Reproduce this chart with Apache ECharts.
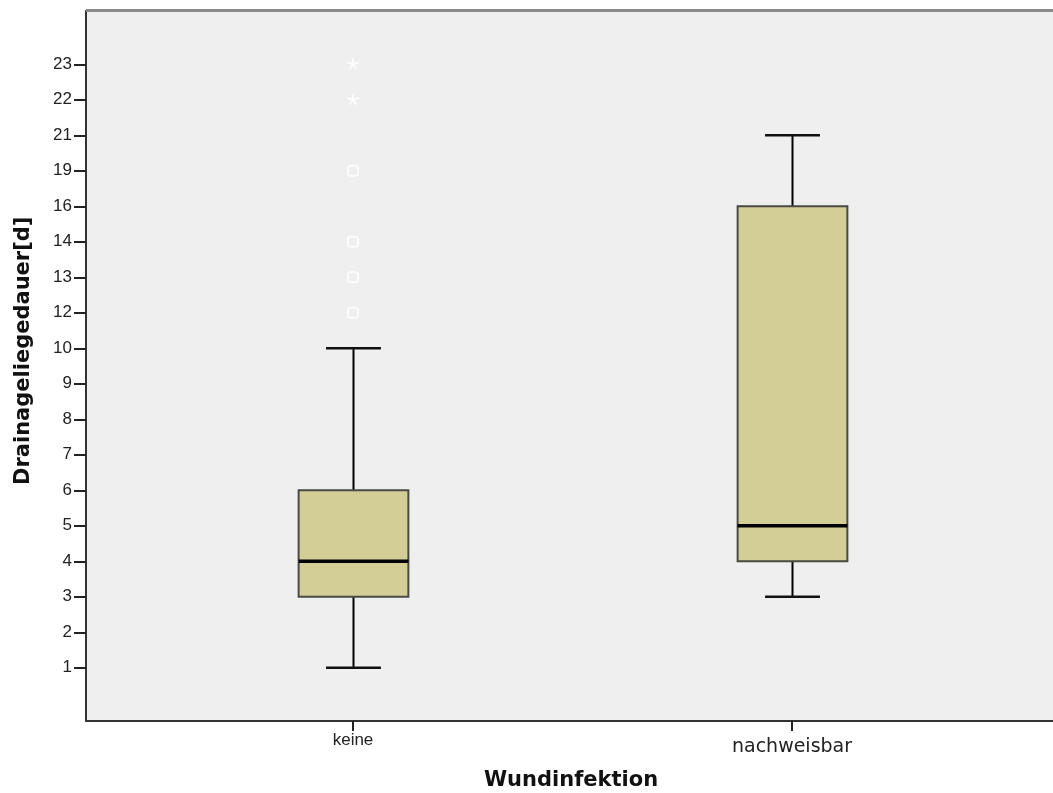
<!DOCTYPE html>
<html>
<head>
<meta charset="utf-8">
<script src="https://cdn.jsdelivr.net/npm/echarts@6/dist/echarts.min.js"></script>
<style>
html,body{margin:0;padding:0;background:#fff;}
#c{width:1053px;height:793px;}
</style>
</head>
<body>
<div id="c"></div>
<script>
// ---- data ----
const categories = ['keine', 'nachweisbar'];
const yTickLabels = ['1','2','3','4','5','6','7','8','9','10','12','13','14','16','19','21','22','23'];
const whiskerLow = [1, 3];
const quartile1 = [3, 4];
const medians = [4, 5];
const quartile3 = [6, 16];
const whiskerHigh = [10, 21];
const outlierCircles = [[0, 12], [0, 13], [0, 14], [0, 19]];
const outlierStars = [[0, 22], [0, 23]];

// y axis is ordinal: padding categories at both ends
const yCats = [''].concat(yTickLabels, [' ']);
const yIdx = v => yCats.indexOf(String(v));

const BOX_W = 0.25;   // box width in x-units
const CAP_W = 0.125;  // cap width in x-units

const boxData = categories.map((c, i) => [i, yIdx(whiskerLow[i]), yIdx(quartile1[i]), yIdx(medians[i]), yIdx(quartile3[i]), yIdx(whiskerHigh[i])]);
const circleData = outlierCircles.map(p => [p[0], yIdx(p[1])]);
const starData = outlierStars.map(p => [p[0], yIdx(p[1])]);

const chart = echarts.init(document.getElementById('c'), null, {renderer: 'canvas'});

function renderBox(params, api) {
  const x = api.value(0);
  const lo = api.coord([x, api.value(1)]);
  const q1 = api.coord([x, api.value(2)]);
  const md = api.coord([x, api.value(3)]);
  const q3 = api.coord([x, api.value(4)]);
  const hi = api.coord([x, api.value(5)]);
  const bw = api.size([BOX_W, 0])[0];
  const cw = api.size([CAP_W, 0])[0];
  const cx = Math.round(lo[0]) + 0.5;
  const line = (x1, y1, x2, y2, w, col) => ({type: 'line', shape: {x1, y1, x2, y2}, style: {stroke: col, lineWidth: w}});
  return {
    type: 'group',
    children: [
      line(cx, q1[1], cx, lo[1], 2, '#000'),
      line(cx, q3[1], cx, hi[1], 2, '#000'),
      line(cx - cw / 2, lo[1], cx + cw / 2, lo[1], 2.5, '#111'),
      line(cx - cw / 2, hi[1], cx + cw / 2, hi[1], 2.5, '#111'),
      {type: 'rect', shape: {x: cx - bw / 2, y: q3[1], width: bw, height: q1[1] - q3[1]},
        style: {fill: '#d3ce96', stroke: '#4a4a44', lineWidth: 2}},
      line(cx - bw / 2, md[1], cx + bw / 2, md[1], 3.5, '#000')
    ]
  };
}

function renderStar(params, api) {
  const p = api.coord([api.value(0), api.value(1)]);
  const r = 6;
  const children = [];
  for (let k = 0; k < 5; k++) {
    const a = -Math.PI / 2 + k * 2 * Math.PI / 5;
    children.push({type: 'line', shape: {x1: p[0], y1: p[1], x2: p[0] + r * Math.cos(a), y2: p[1] + r * Math.sin(a)},
      style: {stroke: '#ffffff', lineWidth: 1.6}});
  }
  return {type: 'group', children};
}

const option = {
  animation: false,
  backgroundColor: '#ffffff',
  grid: {left: 86, right: 0, top: 11, bottom: 72, show: true, backgroundColor: '#efefef', borderWidth: 0},
  xAxis: {
    type: 'value',
    min: -267 / 439,
    max: 700 / 439,
    splitLine: {show: false},
    axisLine: {show: true, onZero: false, lineStyle: {color: '#333', width: 2}},
    axisTick: {show: true, customValues: [0, 1], length: 10, lineStyle: {color: '#222', width: 2}},
    axisLabel: {
      customValues: [0, 1],
      margin: 11,
      formatter: v => (Math.round(v) === 0 ? '{a|' : '{b|') + categories[Math.round(v)] + '}',
      rich: {
        a: {fontFamily: 'Liberation Sans', fontSize: 17, color: '#222'},
        b: {fontFamily: 'DejaVu Sans', fontSize: 19, color: '#222', padding: [6, 0, 0, 0]}
      }
    }
  },
  yAxis: {
    type: 'category',
    data: yCats,
    boundaryGap: true,
    splitLine: {show: false},
    axisLine: {show: true, onZero: false, lineStyle: {color: '#333', width: 2}},
    axisTick: {show: true, alignWithLabel: true, length: 12, interval: (i, v) => String(v).trim() !== '', lineStyle: {color: '#222', width: 2}},
    axisLabel: {interval: 0, margin: 14, fontFamily: 'Liberation Sans', fontSize: 17, color: '#222'}
  },
  graphic: [
    {type: 'line', shape: {x1: 86, y1: 10.5, x2: 1053, y2: 10.5}, style: {stroke: '#8a8a8a', lineWidth: 3}, z: 100},
    {type: 'text', x: 571, y: 781, style: {text: 'Wundinfektion', font: 'bold 21px "DejaVu Sans"', fill: '#111', align: 'center', verticalAlign: 'middle'}},
    {type: 'text', x: 24, y: 485, rotation: Math.PI / 2, style: {text: 'Drainageliegedauer[d]', font: 'bold 21px "DejaVu Sans"', fill: '#111', align: 'left', verticalAlign: 'middle'}}
  ],
  series: [
    {type: 'custom', renderItem: renderBox, data: boxData, encode: {x: 0, y: [1, 2, 3, 4, 5]}, z: 3},
    {type: 'scatter', data: circleData, symbol: 'roundRect', symbolSize: 10,
      itemStyle: {color: '#efefef', borderColor: '#ffffff', borderWidth: 2}, z: 4},
    {type: 'custom', renderItem: renderStar, data: starData, encode: {x: 0, y: 1}, z: 4}
  ]
};
chart.setOption(option);
</script>
</body>
</html>
